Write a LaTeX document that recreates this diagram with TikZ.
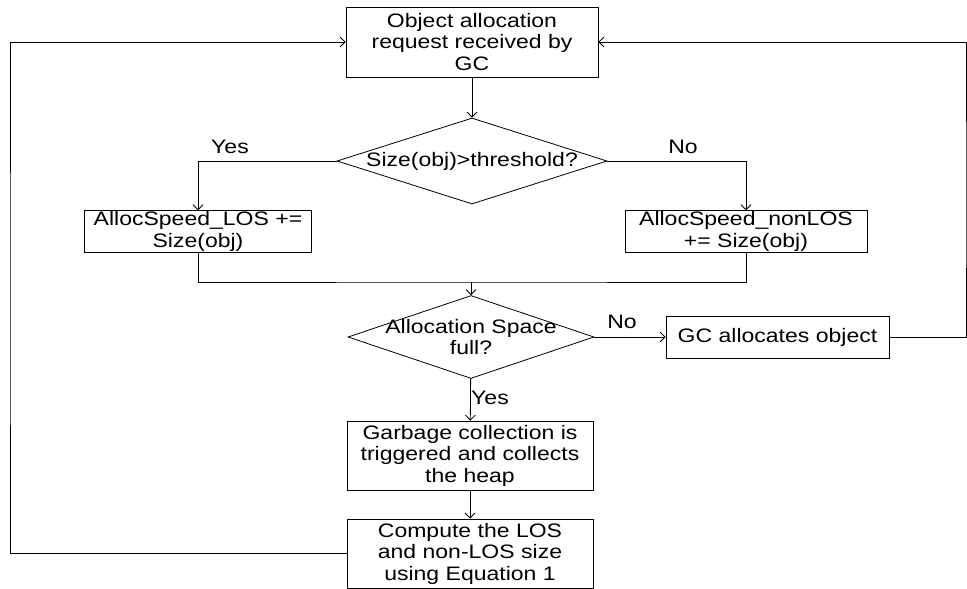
\documentclass[tikz,border=0pt]{standalone}
\usepackage{fontspec}
\setmainfont{Liberation Sans}[FakeStretch=1.18]
\usetikzlibrary{shapes.geometric,arrows.meta}

\begin{document}
\begin{tikzpicture}[x=1pt,y=-1pt,
    font=\fontsize{19.5}{21.5}\selectfont,
    box/.style={draw, line width=0.8pt, align=center, inner sep=1pt},
    decision/.style={draw, diamond, line width=0.8pt, inner sep=0pt},
    link/.style={line width=0.8pt},
    flow/.style={line width=0.8pt, -{Straight Barb[length=5pt,width=10pt]}}]
  \useasboundingbox (0,0) rectangle (967,589);

  % Request box and size test
  \node[box, minimum width=252pt, minimum height=70pt] (req) at (472,42)
    {Object allocation\\request received by\\GC};
  \node[decision, minimum width=270pt, minimum height=86pt,
    label={center:Size(obj)>threshold?}] (dec1) at (472,161) {};

  % Speed counters
  \node[box, minimum width=227pt, minimum height=41pt] (los) at (198,231.5)
    {AllocSpeed\_LOS +=\\Size(obj)};
  \node[box, minimum width=242pt, minimum height=41pt] (nonlos) at (746,231.5)
    {AllocSpeed\_nonLOS\\+= Size(obj)};

  % Space test and its two outcomes
  \node[decision, minimum width=246pt, minimum height=83pt,
    label={[align=center]center:Allocation Space\\full?}] (dec2) at (471,337) {};
  \node[box, minimum width=223pt, minimum height=42pt] (gcalloc) at (777.5,337)
    {GC allocates object};
  \node[box, minimum width=246pt, minimum height=69pt] (gcoll) at (470,455.5)
    {Garbage collection is\\triggered and collects\\the heap};
  \node[box, minimum width=246pt, minimum height=69pt] (comp) at (470,553.5)
    {Compute the LOS\\and non-LOS size\\using Equation 1};

  % Branch labels
  \node (yes1) at (230,147) {Yes};
  \node (no1) at (683,147) {No};
  \node (no2) at (622,322) {No};
  \node (yes2) at (490,398) {Yes};

  % Connectors
  \coordinate (join) at (471,282);
  \coordinate (lft) at (10,300);
  \coordinate (rgt) at (966,200);
  \draw[flow] (req) -- (dec1);
  \draw[flow] (dec1.west) -| (los.north);
  \draw[flow] (dec1.east) -| (nonlos.north);
  \draw[link] (los.south) |- (join) -| (nonlos.south);
  \draw[flow] (join) -- (dec2);
  \draw[flow] (dec2.east) -- (gcalloc.west);
  \draw[flow] (dec2) -- (gcoll);
  \draw[flow] (gcoll) -- (comp);

  % Loops back to the request
  \draw[flow] (comp.west) -| (lft) |- (req.west);
  \draw[flow] (gcalloc.east) -| (rgt) |- (req.east);
\end{tikzpicture}
\end{document}
